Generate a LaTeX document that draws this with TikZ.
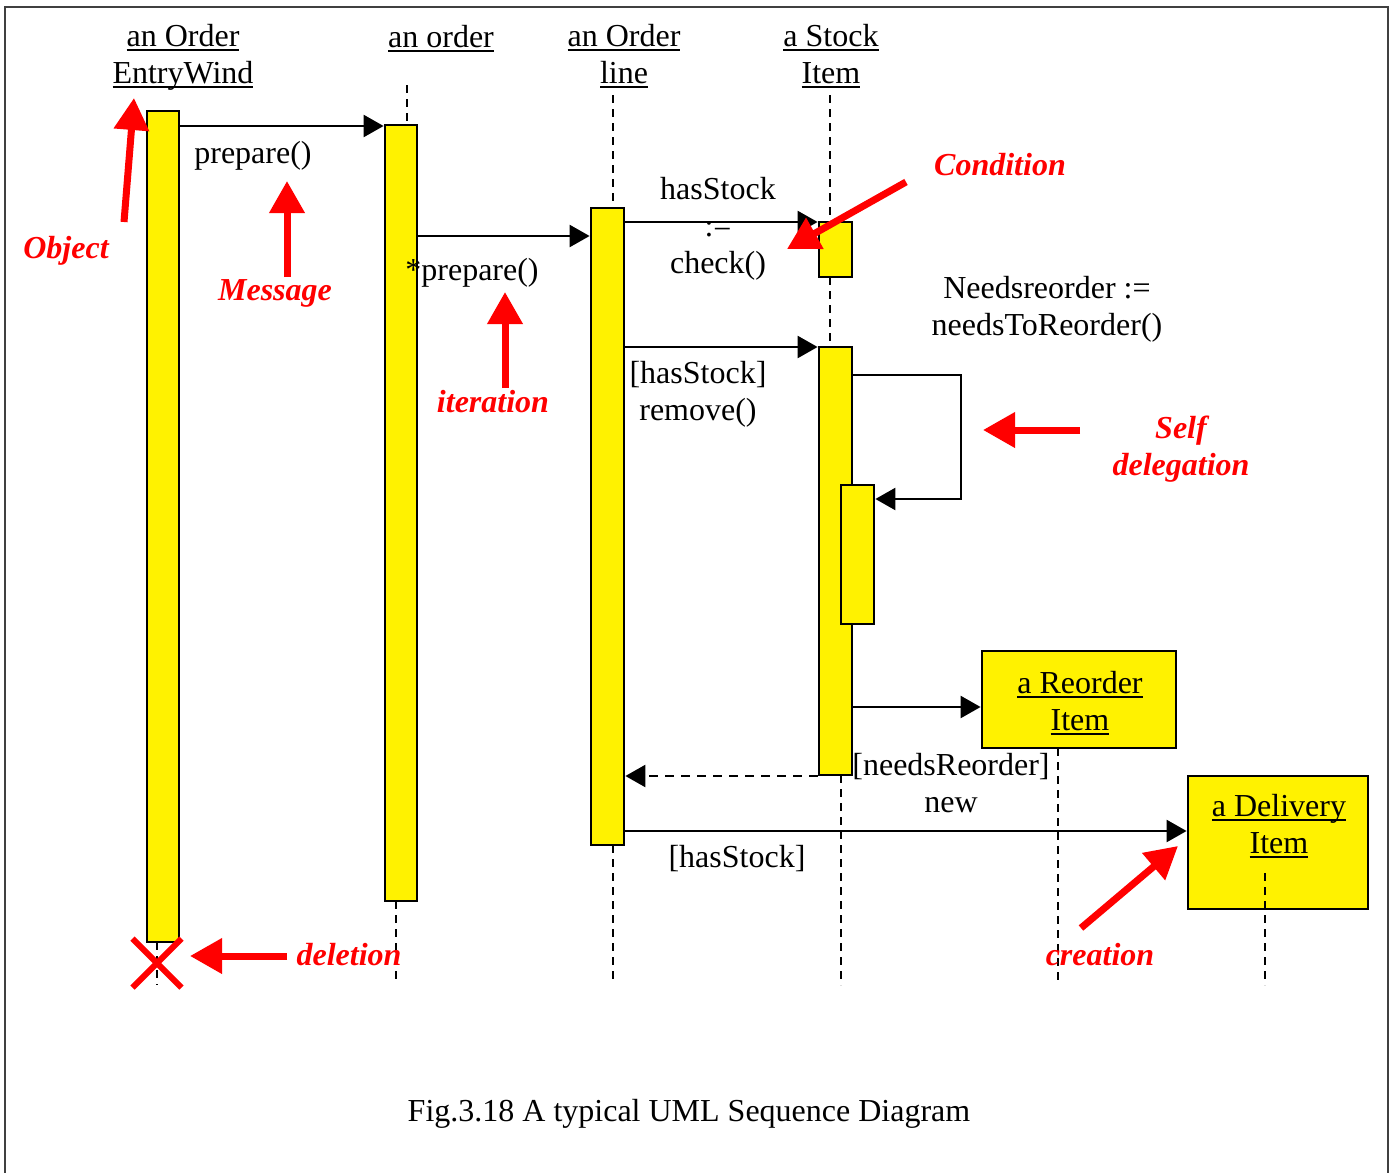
\documentclass[tikz,border=0pt]{standalone}
\usepackage{fontspec}
\setmainfont{Liberation Serif}
\usetikzlibrary{arrows.meta,fit,shapes.misc}
\newcommand\uln[1]{\setbox0\hbox{#1}\rlap{\rule[-2.4pt]{\wd0}{0.9pt}}\box0}
\begin{document}
\begin{tikzpicture}[x=0.5pt,y=-0.5pt,
  font=\fontsize{16}{18.5}\selectfont,
  life/.style={line width=1.2pt, dash pattern=on 4pt off 3pt},
  actbox/.style={draw, fill=yellow, line width=1.4pt, inner sep=0pt},
  msg/.style={line width=1.2pt, -{Triangle[length=10pt,width=11pt]}},
  ret/.style={msg, dash pattern=on 4.5pt off 3.5pt},
  lbl/.style={anchor=base, align=center},
  note/.style={text=red, font=\fontsize{16}{18.5}\selectfont\bfseries\itshape, align=center, anchor=base},
  redarr/.style={draw=red, line width=3.5pt, -{Triangle[length=16pt,width=17pt]}}
]
\useasboundingbox (0,0) rectangle (1394,1173);
% frame
\draw[line width=1pt, black!75] (5,1173) -- (5,7) -- (1388,7) -- (1388,1173);

% object heads (anchor = baseline of last line)
\node[lbl] (h1) at (183,83) {\uln{an Order}\\\uln{EntryWind}};
\node[lbl] (h2) at (441,47) {\uln{an order}};
\node[lbl] (h3) at (624,83) {\uln{an Order}\\\uln{line}};
\node[lbl] (h4) at (831,83) {\uln{a Stock}\\\uln{Item}};

% lifelines
\draw[life] (157,942) -- (157,985);
\draw[life] (407,85) -- (407,125);
\draw[life] (396,901) -- (396,983);
\draw[life] (613,95) -- (613,208);
\draw[life] (613,845) -- (613,983);
\draw[life] (830,95) -- (830,222);
\draw[life] (830,277) -- (830,347);
\draw[life] (841,775) -- (841,985);
\draw[life] (1058,748) -- (1058,985);

% activation boxes
\node[actbox, fit={(147,111)(179,942)}] (A1) {};
\node[actbox, fit={(385,125)(417,901)}] (A2) {};
\node[actbox, fit={(591,208)(624,845)}] (A3) {};
\node[actbox, fit={(819,222)(852,277)}] (A4a) {};
\node[actbox, fit={(819,347)(852,775)}] (A4b) {};
\node[actbox, fit={(841,485)(874,624)}] (A4c) {};

% created objects
\node[actbox, fit={(982,651)(1176,748)}] (R) {};
\node[lbl] (Rt) at (1080,730) {\uln{a Reorder}\\\uln{Item}};
\node[actbox, fit={(1188,776)(1368,909)}] (D) {};
\node[lbl] (Dt) at (1279,853) {\uln{a Delivery}\\\uln{Item}};
\draw[life] (1265,873) -- (1265,985);

% messages
\draw[msg] (A1.east |- 0,126) -- (A2.west |- 0,126);
\draw[msg] (A2.east |- 0,236) -- (A3.west |- 0,236);
\draw[msg] (A3.east |- 0,222) -- (A4a.west |- 0,222);
\draw[msg] (A3.east |- 0,347) -- (A4b.west |- 0,347);
\draw[msg] (A4b.east |- 0,375) -- (961,375) -- (961,499) -- (A4c.east |- 0,499);
\draw[msg] (A4b.east |- 0,707) -- (R.west |- 0,707);
\draw[ret] (A4b.west |- 0,776) -- (A3.east |- 0,776);
\draw[msg] (A3.east |- 0,831) -- (D.west |- 0,831);

% message labels
\node[lbl] (l1) at (253,163) {prepare()};
\node[lbl, anchor=base west, inner sep=0pt] (l2) at (405,280) {*prepare()};
\node[lbl] (l3) at (718,273) {hasStock\\:=\\check()};
\node[lbl] (l4) at (698,420) {[hasStock]\\remove()};
\node[lbl] (l5) at (1047,335) {Needsreorder :=\\needsToReorder()};
\node[lbl] (l6) at (951,812) {[needsReorder]\\new};
\node[lbl] (l7) at (737,867) {[hasStock]};

% annotations
\node[note] (nObj) at (66,258) {Object};
\node[note] (nMsg) at (275,300) {Message};
\node[note] (nIt) at (493,412) {iteration};
\node[note] (nCond) at (1000,175) {Condition};
\node[note] (nSelf) at (1181,475) {Self\\delegation};
\node[note] (nDel) at (349,965) {deletion};
\node[note] (nCre) at (1100,965) {creation};

\node[cross out, draw=red, line width=3pt, minimum size=21.5pt, inner sep=0pt] (X) at (157,963) {};

\draw[redarr] (124,222) -- (134,98);
\draw[redarr] (287,277) -- (287,181);
\draw[redarr] (505,388) -- (505,292);
\draw[redarr] (906,182) -- (787,249);
\draw[redarr] (1080,430) -- (983,430);
\draw[redarr] (287,956) -- (190,956);
\draw[redarr] (1081,928) -- (1178,846);

% caption
\node[lbl] (cap) at (689,1121) {Fig.3.18 A typical UML Sequence Diagram};
\end{tikzpicture}
\end{document}
